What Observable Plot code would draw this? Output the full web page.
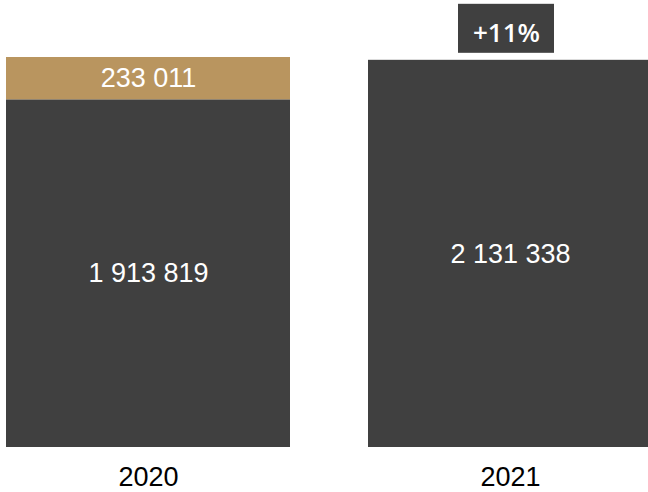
<!DOCTYPE html>
<html>
<head>
<meta charset="utf-8">
<script src="https://cdn.jsdelivr.net/npm/d3@7"></script>
<script src="https://cdn.jsdelivr.net/npm/@observablehq/plot@0.6"></script>
<style>
  html, body { margin: 0; padding: 0; background: #fff; }
  #chart svg { display: block; overflow: hidden; }
</style>
</head>
<body>
<div id="chart"></div>
<script>
const years = ["2020", "2020", "2021"];
const parts = ["base", "extra", "base"];
const values = [1913819, 233011, 2131338];
const colors = { base: "#404040", extra: "#b9955f" };

const data = years.map((y, i) => ({ year: y, part: parts[i], value: values[i] }));
const fmt = d3.formatLocale({ thousands: " ", grouping: [3], decimal: "," }).format(",d");

const base2020 = values[0];
const v2021 = values[2];
const growth = (v2021 - base2020) / base2020;
const badge = [{ year: "2021", value: v2021, label: "+" + Math.round(growth * 100) + "%" }];

const total2020 = values[0] + values[1];

const plot = Plot.plot({
  width: 648,
  height: 492,
  marginTop: 57,
  marginBottom: 45,
  marginLeft: 0,
  marginRight: 0,
  style: { background: "transparent", fontFamily: "'Liberation Sans', Arial, sans-serif" },
  x: { domain: ["2020", "2021"], range: [6, 652], paddingInner: 78 / 362, paddingOuter: 0, label: null },
  y: { domain: [0, total2020], axis: null },
  color: { domain: ["base", "extra"], range: [colors.base, colors.extra] },
  marks: [
    Plot.barY(data, Plot.stackY({ x: "year", y: "value", fill: "part", order: ["base", "extra"] })),
    Plot.text(data, Plot.stackY({
      x: "year", y: "value", z: "part", order: ["base", "extra"],
      text: d => fmt(d.value), fill: "white", fontSize: 27
    })),
    Plot.barY(badge, {
      x: "year", y1: "value", y2: "value", fill: "#404040",
      insetTop: -56, insetBottom: 7, insetLeft: 90, insetRight: 98
    }),
    Plot.text(badge, {
      x: "year", y: "value", text: "label", dy: -27, dx: -4,
      fill: "white", fontSize: 26, fontWeight: 600, fontFamily: "'Open Sans', sans-serif"
    }),
    Plot.axisX({ tickSize: 0, tickPadding: 19, fontSize: 27, fill: "black", label: null })
  ]
});

document.getElementById("chart").appendChild(plot);
</script>
</body>
</html>
